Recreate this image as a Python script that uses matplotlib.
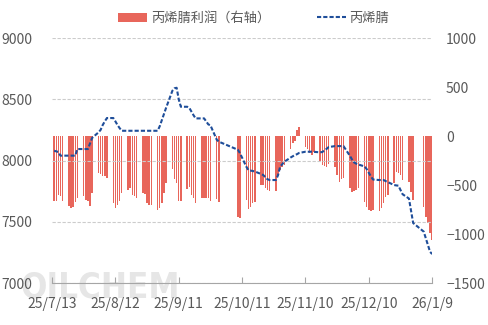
import numpy as np
import pandas as pd
import matplotlib
matplotlib.use('Agg')
import matplotlib.pyplot as plt

plt.rcParams['font.family'] = ['Noto Sans CJK SC', 'DejaVu Sans']

# trading days (weekdays without the national day / new year breaks)
holidays = ['2025-10-01', '2025-10-02', '2025-10-03', '2025-10-06',
            '2025-10-07', '2025-10-08', '2026-01-01', '2026-01-02']
dates = pd.bdate_range('2025-07-14', '2026-01-09').drop(pd.to_datetime(holidays))

# 丙烯腈 price (left axis)
price = [8080, 8075, 8070, 8040, 8040,
         8040, 8040, 8040, 8040, 8094,
         8094, 8094, 8094, 8140, 8185,
         8230, 8250, 8290, 8320, 8347,
         8347, 8320, 8290, 8265, 8243,
         8243, 8243, 8243, 8243, 8243,
         8243, 8243, 8243, 8243, 8243,
         8243, 8280, 8330, 8380, 8430,
         8570, 8590, 8594, 8500, 8439,
         8439, 8430, 8400, 8370, 8344,
         8344, 8344, 8320, 8295, 8288,
         8170, 8154,
         8088, 8060,
         7950, 7922, 7918, 7915, 7911,
         7890, 7882, 7865, 7848, 7841,
         7841, 7880, 7950, 7970, 7990,
         8025, 8035, 8045, 8052, 8062,
         8072, 8072, 8072, 8072, 8071,
         8067, 8070, 8083, 8095, 8110,
         8118, 8118, 8118, 8118, 8118,
         8040, 8010, 7985, 7975, 7968,
         7952, 7930, 7900, 7870, 7845,
         7841, 7841, 7841, 7832, 7824,
         7800, 7797, 7795, 7760, 7725,
         7690, 7590, 7490,
         7420, 7365, 7310, 7255, 7237]

# 丙烯腈利润 (right axis)
profit = [-660, -660, -602, -609, -660,
          -714, -735, -724, -673, -633,
          -609, -653, -660, -714, -579,
          -381, -391, -408, -405, -425,
          -680, -738, -704, -660, -585,
          -551, -534, -602, -612, -636,
          -579, -592, -680, -704, -707,
          -755, -738, -680, -579, -477,
          -340, -442, -483, -660, -660,
          -544, -524, -602, -636, -680,
          -630, -636, -630, -636, -663,
          -645, -670,
          -830, -840,
          -653, -748, -721, -687, -670,
          -500, -500, -534, -551, -558,
          -558, -398, -347, -313, -296,
          -130, -75, -48, 60, 95,
          -110, -130, -170, -190, -160,
          -250, -296, -310, -320, -290,
          -313, -398, -466, -442, -432,
          -534, -568, -561, -551, -534,
          -670, -721, -755, -762, -755,
          -762, -738, -687, -619, -602,
          -483, -364, -381, -398, -449,
          -466, -568, -653,
          -728, -823, -891, -993, -1061]

tick_dates = pd.to_datetime(['2025-07-13', '2025-08-12', '2025-09-11', '2025-10-11',
                             '2025-11-10', '2025-12-10', '2026-01-09'])
tick_labels = ['25/7/13', '25/8/12', '25/9/11', '25/10/11', '25/11/10', '25/12/10', '26/1/9']

fig = plt.figure(figsize=(4.88, 3.25), dpi=100)
ax = fig.add_axes([0.1066, 0.129, 0.779, 0.754])
ax2 = ax.twinx()

bars = ax2.bar(dates, profit, width=0.7, color='#e8665b', label='丙烯腈利润（右轴）')
line, = ax.plot(dates, price, color='#1f4e9a', lw=1.5, ls=(0, (2, 1)), label='丙烯腈')

ax.set_zorder(ax2.get_zorder() + 1)
ax.patch.set_visible(False)

ax.set_ylim(7000, 9000)
ax.set_yticks([7000, 7500, 8000, 8500, 9000])
ax2.set_ylim(-1500, 1000)
ax2.set_yticks([-1500, -1000, -500, 0, 500, 1000])
ax.set_xlim(tick_dates[0], tick_dates[-1])
ax.set_xticks(tick_dates)
ax.set_xticklabels(tick_labels)

ax.grid(axis='y', color='#cccccc', ls=(0, (3, 1.5)), lw=0.8)
ax.grid(axis='x', visible=False)

for a in (ax, ax2):
    for s in ('top', 'left', 'right'):
        a.spines[s].set_visible(False)
ax2.spines['bottom'].set_visible(False)
ax.spines['bottom'].set_color('#a6a6a6')

txt = '#595959'
ax.tick_params(axis='x', direction='in', length=4, color='#a6a6a6', labelsize=10,
               labelcolor=txt, pad=10)
ax.tick_params(axis='y', length=0, pad=14, labelsize=10, labelcolor=txt)
ax2.tick_params(axis='y', length=0, pad=10, labelsize=10, labelcolor=txt)

fig.legend(handles=[bars, line], loc='upper center', bbox_to_anchor=(0.52, 1.0), ncol=2,
           frameon=False, fontsize=9.5, labelcolor=txt, handlelength=2.2,
           columnspacing=3.5, handletextpad=0.3)

# watermark
fig.text(0.041, 0.086, 'OILCHEM', fontsize=25, fontweight='bold', color='#e6e6e6',
         family='DejaVu Sans', fontstretch='condensed', zorder=0.5)

fig.savefig('out.png', dpi=100)
